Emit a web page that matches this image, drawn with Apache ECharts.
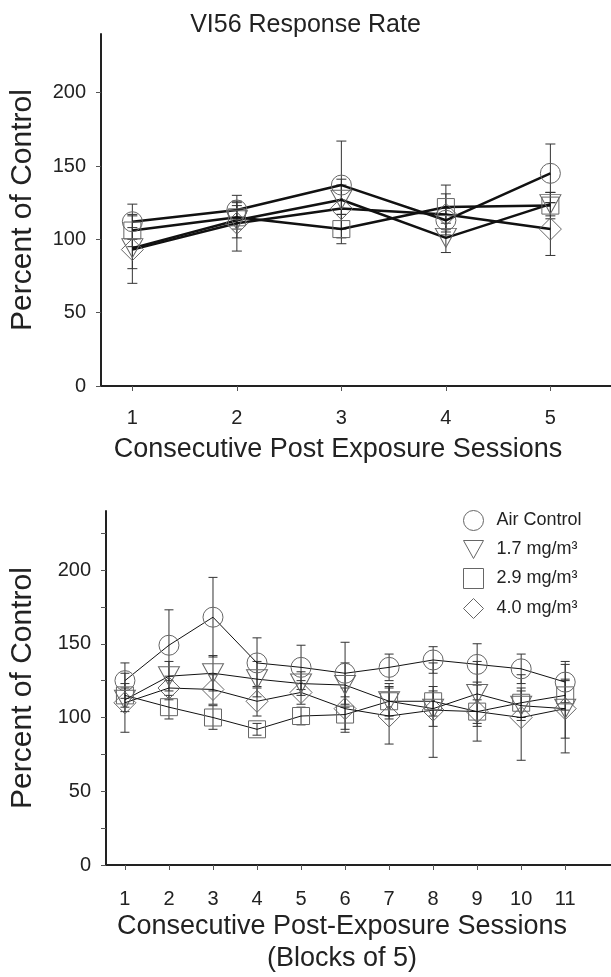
<!DOCTYPE html>
<html><head><meta charset="utf-8">
<script src="https://cdn.jsdelivr.net/npm/echarts@6/dist/echarts.min.js"></script>
<style>html,body{margin:0;padding:0;background:#fff}#c{width:611px;height:977px}</style>
</head><body><div id="c"></div>
<script>
// ---- data ----
const seriesNames = ['Air Control', '1.7 mg/m³', '2.9 mg/m³', '4.0 mg/m³'];

const topSessions = [1, 2, 3, 4, 5];
const topAir      = [112, 120, 137, 113, 145];
const topLow      = [94, 113, 127, 101, 124];
const topMid      = [106, 115, 107, 122, 123];
const topHigh     = [93, 111, 121, 117, 107];
const topAirErr   = [12, 6, 30, 8, 20];
const topLowErr   = [14, 12, 10, 10, 8];
const topMidErr   = [11, 8, 10, 15, 9];
const topHighErr  = [23, 19, 20, 14, 18];

const bottomSessions = [1, 2, 3, 4, 5, 6, 7, 8, 9, 10, 11];
const botAir      = [125, 149, 168, 137, 134, 130, 134, 139, 136, 133, 124];
const botLow      = [112, 128, 130, 126, 123, 122, 111, 106, 116, 108, 106];
const botMid      = [115, 107, 100, 92, 101, 102, 111, 111, 104, 110, 115];
const botHigh     = [110, 120, 119, 111, 117, 106, 101, 105, 104, 100, 106];
const botAirErr   = [12, 24, 27, 17, 15, 21, 9, 9, 14, 10, 14];
const botLowErr   = [8, 10, 12, 12, 8, 15, 12, 12, 22, 10, 30];
const botMidErr   = [8, 8, 8, 4, 6, 12, 10, 10, 8, 10, 10];
const botHighErr  = [20, 8, 10, 10, 8, 14, 19, 32, 20, 29, 20];

const yTickLabels = [0, 50, 100, 150, 200];
const yMinorTicks = [0, 25, 50, 75, 100, 125, 150, 175, 200, 225];

// ---- styling ----
const FONT = '"Liberation Sans", Arial, sans-serif';
const TXT = '#222';
const triPath = 'path://M0,0L20,0L10,18Z';
const symbols = ['circle', triPath, 'rect', 'diamond'];
const symbolSizes = [20, [21, 19], 17, 22];

function pairs(xs, ys) { return xs.map((x, i) => [x, ys[i]]); }
function triples(xs, ys, es) { return xs.map((x, i) => [x, ys[i], es[i]]); }

function errRender(capHalf) {
  return function (params, api) {
    const x = api.value(0), y = api.value(1), e = api.value(2);
    const p1 = api.coord([x, y + e]), p2 = api.coord([x, y - e]);
    const style = { stroke: '#333', lineWidth: 1 };
    return {
      type: 'group',
      children: [
        { type: 'line', shape: { x1: p1[0], y1: p1[1], x2: p2[0], y2: p2[1] }, style: style },
        { type: 'line', shape: { x1: p1[0] - capHalf, y1: p1[1], x2: p1[0] + capHalf, y2: p1[1] }, style: style },
        { type: 'line', shape: { x1: p2[0] - capHalf, y1: p2[1], x2: p2[0] + capHalf, y2: p2[1] }, style: style }
      ]
    };
  };
}

const topVals = [topAir, topLow, topMid, topHigh];
const topErrs = [topAirErr, topLowErr, topMidErr, topHighErr];
const botVals = [botAir, botLow, botMid, botHigh];
const botErrs = [botAirErr, botLowErr, botMidErr, botHighErr];

const series = [];
function addGroup(idx, xs, vals, errs, lineWidth, cap) {
  vals.forEach((v, i) => {
    series.push({
      type: 'custom', xAxisIndex: idx, yAxisIndex: idx,
      renderItem: errRender(cap), encode: { x: 0, y: 1 },
      data: triples(xs, v, errs[i]), silent: true, z: 1
    });
  });
  vals.forEach((v, i) => {
    series.push({
      type: 'line', name: seriesNames[i], xAxisIndex: idx, yAxisIndex: idx,
      data: pairs(xs, v),
      symbol: symbols[i], symbolSize: symbolSizes[i],
      showSymbol: true,
      lineStyle: { color: '#111', width: lineWidth },
      itemStyle: { color: 'rgba(0,0,0,0)', borderColor: '#666', borderWidth: 1 },
      emphasis: { disabled: true }, silent: true, z: 2
    });
  });
}
addGroup(0, topSessions, topVals, topErrs, 2.5, 5);
addGroup(1, bottomSessions, botVals, botErrs, 1, 4.5);

function yAxis(idx, minor) {
  return {
    gridIndex: idx, type: 'value', min: 0, max: 240,
    axisLine: { show: true, lineStyle: { color: TXT, width: 2 } },
    axisTick: { show: true, length: 5, lineStyle: { color: '#555' }, customValues: minor ? yMinorTicks : yTickLabels },
    axisLabel: { customValues: yTickLabels, fontSize: 20, margin: 15, color: TXT, fontFamily: FONT },
    splitLine: { show: false },
    name: 'Percent of Control', nameLocation: 'middle', nameGap: idx === 0 ? 63 : 68,
    nameTextStyle: { fontSize: 30, fontFamily: FONT, color: TXT }
  };
}
function xAxis(idx, min, max, ticks, name, gap, margin, pad) {
  return {
    gridIndex: idx, type: 'value', min: min, max: max,
    axisLine: { show: true, onZero: false, lineStyle: { color: TXT, width: 2 } },
    axisTick: { show: true, length: 5, lineStyle: { color: '#555' }, customValues: ticks },
    axisLabel: { customValues: ticks, fontSize: 20, margin: margin, color: TXT, fontFamily: FONT },
    splitLine: { show: false },
    name: name, nameLocation: 'middle', nameGap: gap,
    nameTextStyle: { fontSize: 27, fontFamily: FONT, color: TXT, lineHeight: 32, padding: [0, pad, 0, 0] }
  };
}

const legendIcons = ['circle', triPath, 'rect', 'diamond'];

const option = {
  animation: false,
  backgroundColor: '#fff',
  title: {
    text: 'VI56 Response Rate', left: 'center', top: 8,
    textStyle: { fontSize: 25, fontWeight: 'normal', fontFamily: FONT, color: TXT }
  },
  legend: {
    data: seriesNames.map((n, i) => ({
      name: n, icon: legendIcons[i],
      itemStyle: { color: 'rgba(0,0,0,0)', borderColor: '#666', borderWidth: 1 }
    })),
    orient: 'vertical', left: 463, top: 510, padding: 0,
    itemWidth: 20, itemHeight: 20, itemGap: 9, selectedMode: false,
    textStyle: { fontSize: 18, fontFamily: FONT, color: TXT, padding: [0, 0, 0, 8] }
  },
  grid: [
    { left: 100, top: 34, width: 511, height: 352 },
    { left: 105, top: 511, width: 506, height: 354 }
  ],
  xAxis: [
    xAxis(0, 0.7, 5.58, topSessions, 'Consecutive Post Exposure Sessions', 48, 22, 36),
    xAxis(1, 0.57, 12.04, bottomSessions, 'Consecutive Post-Exposure Sessions\n(Blocks of 5)', 46, 24, 33)
  ],
  yAxis: [yAxis(0, false), yAxis(1, true)],
  series: series
};

const chart = echarts.init(document.getElementById('c'), null, { renderer: 'canvas' });
chart.setOption(option);
</script>
</body></html>
